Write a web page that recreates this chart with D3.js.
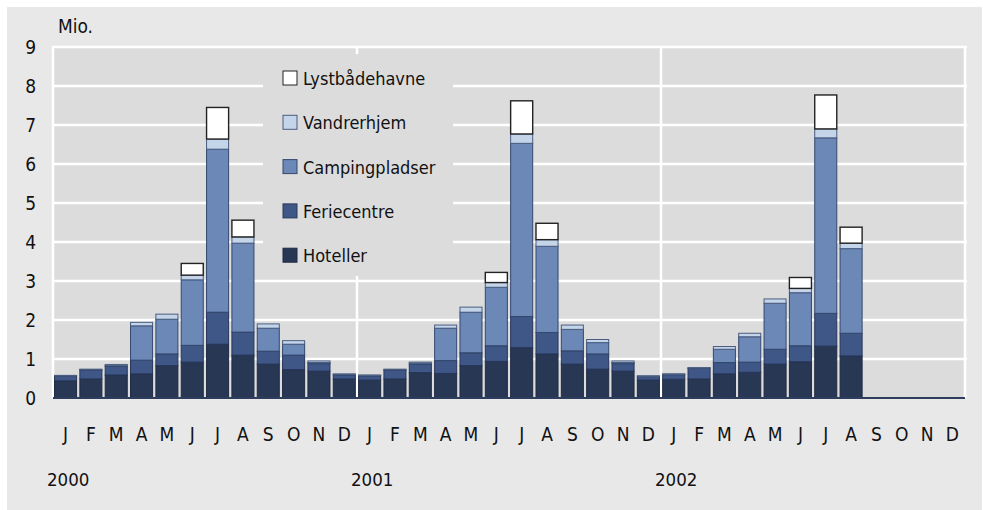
<!DOCTYPE html>
<html>
<head>
<meta charset="utf-8">
<script src="https://cdn.jsdelivr.net/npm/d3@7"></script>
<style>
  body { margin: 0; background: #ffffff; }
  text { font-family: "Liberation Sans Narrow", "DejaVu Sans Condensed", "Roboto", sans-serif; fill: #111; }
</style>
</head>
<body>
<div id="chart"></div>
<script>
// month labels along the x axis, three years
const monthLabels = ["J", "F", "M", "A", "M", "J", "J", "A", "S", "O", "N", "D"];
const years = ["2000", "2001", "2002"];
const yTicks = [0, 1, 2, 3, 4, 5, 6, 7, 8, 9];

// overnight stays, mio. (2002 stops in august)
const hoteller = [
  0.44, 0.49, 0.59, 0.62, 0.83, 0.92, 1.38, 1.10, 0.87, 0.73, 0.69, 0.49,
  0.46, 0.49, 0.65, 0.63, 0.83, 0.94, 1.29, 1.13, 0.87, 0.74, 0.69, 0.46,
  0.48, 0.49, 0.62, 0.66, 0.87, 0.93, 1.33, 1.08, 0, 0, 0, 0,
];
const feriecentre = [
  0.12, 0.22, 0.23, 0.35, 0.30, 0.43, 0.82, 0.59, 0.33, 0.37, 0.19, 0.10,
  0.11, 0.22, 0.22, 0.33, 0.33, 0.40, 0.80, 0.55, 0.34, 0.39, 0.19, 0.09,
  0.12, 0.27, 0.29, 0.26, 0.38, 0.41, 0.84, 0.58, 0, 0, 0, 0,
];
const campingpladser = [
  0.01, 0.02, 0.01, 0.88, 0.89, 1.68, 4.18, 2.28, 0.59, 0.28, 0.03, 0.01,
  0.01, 0.02, 0.02, 0.83, 1.04, 1.50, 4.44, 2.21, 0.55, 0.29, 0.03, 0.01,
  0.01, 0.01, 0.34, 0.65, 1.18, 1.36, 4.50, 2.17, 0, 0, 0, 0,
];
const vandrerhjem = [
  0.01, 0.01, 0.03, 0.09, 0.13, 0.12, 0.26, 0.16, 0.11, 0.09, 0.04, 0.02,
  0.01, 0.01, 0.03, 0.08, 0.13, 0.12, 0.24, 0.17, 0.11, 0.08, 0.04, 0.01,
  0.01, 0.01, 0.07, 0.09, 0.11, 0.11, 0.23, 0.14, 0, 0, 0, 0,
];
const lystbaadehavne = [
  0, 0, 0, 0, 0, 0.30, 0.81, 0.43, 0, 0, 0, 0,
  0, 0, 0, 0, 0, 0.26, 0.85, 0.42, 0, 0, 0, 0,
  0, 0, 0, 0, 0, 0.28, 0.87, 0.41, 0, 0, 0, 0,
];

const seriesNames = ["Hoteller", "Feriecentre", "Campingpladser", "Vandrerhjem", "Lystbådehavne"];
const seriesValues = [hoteller, feriecentre, campingpladser, vandrerhjem, lystbaadehavne];
const seriesColors = ["#283753", "#3f5786", "#6b88b7", "#c5d5e9", "#ffffff"];
const seriesStrokes = ["#1f2b45", "#26365a", "#34486e", "#4a5d80", "#222222"];

// one row per month for d3.stack
const rows = d3.range(36).map((i) => {
  const row = { key: i };
  seriesNames.forEach((name, s) => (row[name] = seriesValues[s][i]));
  return row;
});

const W = 983, H = 510;
const margin = { top: 47, right: 18, bottom: 112, left: 53 };
const width = W - margin.left - margin.right,
  height = H - margin.top - margin.bottom;

const svg = d3
  .select("#chart")
  .append("svg")
  .attr("width", W)
  .attr("height", H);

// outer grey panel
svg.append("rect")
  .attr("x", 7).attr("y", 7)
  .attr("width", W - 8).attr("height", H - 7)
  .attr("fill", "#e8e8e8");

const g = svg.append("g").attr("transform", "translate(" + margin.left + "," + margin.top + ")");

const x = d3.scaleBand().domain(d3.range(36)).range([0, width]).paddingInner(0.13).paddingOuter(0.06);
const y = d3.scaleLinear().domain([0, 9]).range([height, 0]);

// plot background
g.append("rect").attr("width", width).attr("height", height).attr("fill", "#dcdcdc");

// horizontal grid
g.selectAll(".hgrid")
  .data(yTicks.filter((d) => d > 0))
  .enter()
  .append("line")
  .attr("x1", 0).attr("x2", width + 2)
  .attr("y1", (d) => y(d)).attr("y2", (d) => y(d))
  .attr("stroke", "#ffffff").attr("stroke-width", 2.5);

// vertical lines at year boundaries
const step = width / 36;
g.selectAll(".vgrid")
  .data([0, 12, 24, 36])
  .enter()
  .append("line")
  .attr("x1", (d) => d * step).attr("x2", (d) => d * step)
  .attr("y1", -1).attr("y2", height)
  .attr("stroke", "#ffffff").attr("stroke-width", 2.5);

// legend panel hides the grid behind it
const legendX = 263 - margin.left, legendY = 54 - margin.top;
g.append("rect")
  .attr("x", legendX).attr("y", legendY)
  .attr("width", 190).attr("height", 222)
  .attr("fill", "#dcdcdc");

// stacked bars
const stacked = d3.stack().keys(seriesNames)(rows);

g.selectAll(".layer")
  .data(stacked)
  .enter()
  .append("g")
  .attr("fill", (d, i) => seriesColors[i])
  .attr("stroke", (d, i) => seriesStrokes[i])
  .attr("stroke-width", (d, i) => (i === 4 ? 1.4 : 1))
  .selectAll("rect")
  .data((d) => d.filter((p) => p[1] - p[0] > 0))
  .enter()
  .append("rect")
  .attr("x", (d) => x(d.data.key))
  .attr("width", x.bandwidth())
  .attr("y", (d) => y(d[1]))
  .attr("height", (d) => y(d[0]) - y(d[1]));

// baseline
g.append("line")
  .attr("x1", 0).attr("x2", width)
  .attr("y1", height).attr("y2", height)
  .attr("stroke", "#2e3d5e").attr("stroke-width", 1.8);

// y labels
g.selectAll(".ylab")
  .data(yTicks)
  .enter()
  .append("text")
  .attr("x", -17)
  .attr("y", (d) => y(d))
  .attr("dy", "0.36em")
  .attr("text-anchor", "end")
  .style("font-size", "19px")
  .text((d) => d);

g.append("text")
  .attr("x", 5).attr("y", -14)
  .style("font-size", "19px")
  .text("Mio.");

// month labels
g.selectAll(".mlab")
  .data(d3.range(36))
  .enter()
  .append("text")
  .attr("x", (d) => x(d) + x.bandwidth() / 2)
  .attr("y", height + 43)
  .attr("text-anchor", "middle")
  .style("font-size", "19px")
  .text((d) => monthLabels[d % 12]);

// year labels
g.selectAll(".yrlab")
  .data(years)
  .enter()
  .append("text")
  .attr("x", (d, i) => i * 12 * step - 6)
  .attr("y", height + 88)
  .style("font-size", "18.5px")
  .text((d) => d);

// legend, top entry is the top of the stack
const legendOrder = d3.range(5).reverse();
const legend = g.selectAll(".leg")
  .data(legendOrder)
  .enter()
  .append("g")
  .attr("transform", (d, i) => "translate(" + (283 - margin.left) + "," + (71 - margin.top + i * 44.3) + ")");

legend.append("rect")
  .attr("width", 14).attr("height", 14)
  .attr("fill", (d) => seriesColors[d])
  .attr("stroke", (d) => (d === 4 ? "#222222" : seriesStrokes[d]))
  .attr("stroke-width", 1);

legend.append("text")
  .attr("x", 20).attr("y", 14)
  .style("font-size", "18px")
  .text((d) => seriesNames[d]);
</script>
</body>
</html>
